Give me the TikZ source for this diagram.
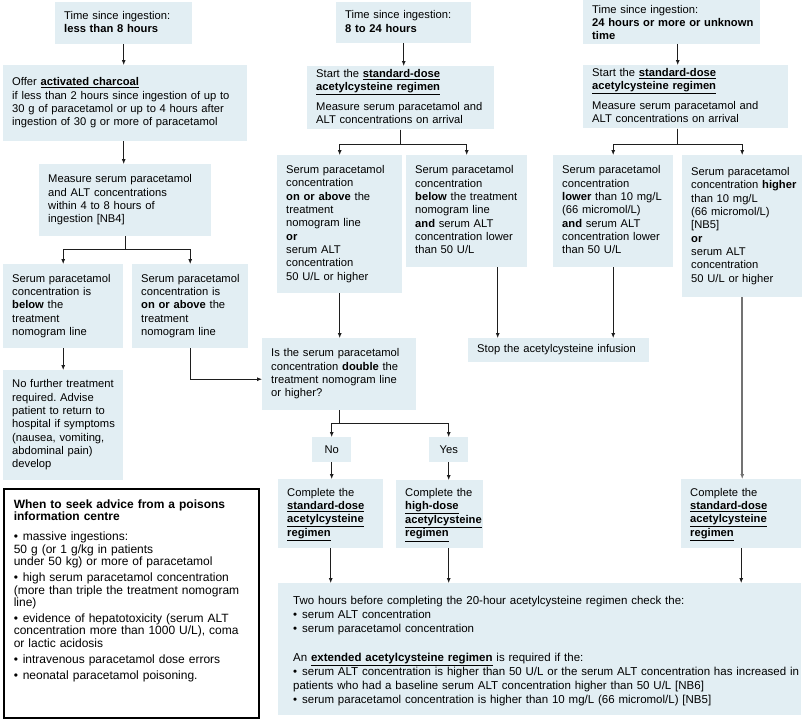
\documentclass[tikz,border=0pt]{standalone}
\usepackage{fontspec}
\setmainfont{Liberation Sans}
\usetikzlibrary{arrows.meta,positioning,calc}
\definecolor{pale}{RGB}{226,238,243}
\definecolor{wire}{RGB}{30,30,30}
\definecolor{slate}{RGB}{115,115,115}
\frenchspacing
\hyphenpenalty=10000
\exhyphenpenalty=10000
\tikzset{
  >={Latex[length=5pt,width=4pt]},
  box/.style={fill=pale,anchor=north west,inner xsep=9pt,inner ysep=2pt,
    text width=#1,align=left,font=\fontsize{11.2}{13.3}\selectfont},
  box/.default=100pt,
  pick/.style={fill=pale,anchor=north west,inner sep=0pt,minimum width=39pt,
    minimum height=25pt,align=center,font=\fontsize{11.2}{13.3}\selectfont},
  note/.style={draw=black,line width=1.6pt,fill=white,anchor=north west,
    inner xsep=10pt,inner ysep=11pt,text width=#1,align=left,
    font=\fontsize{12}{12.4}\selectfont},
  flow/.style={->,draw=wire,line width=0.8pt},
  heavy/.style={draw=slate,line width=1.6pt},
}
\newcommand{\lnk}[1]{\underline{\textbf{#1}}}
\newcommand{\lines}[1]{\begin{tabular}{@{}l@{}}#1\end{tabular}}
\newcommand{\itm}{\par\vspace{3.6pt}\hangindent=9pt\hangafter=1\noindent
  \makebox[9pt][l]{\textbullet}}
\newcommand{\bul}{\makebox[9pt][l]{\textbullet}}

\begin{document}
\begin{tikzpicture}[x=1pt,y=-1pt]
\path[use as bounding box,fill=white] (0,0) rectangle (805,721);

% less than 8 hours
\node[box=119pt,minimum height=42pt] (t1) at (55,2)
  {\lines{Time since ingestion:\\\textbf{less than 8 hours}}};
\node[box=226pt,minimum height=76pt] (coal) at (3,65)
  {\lines{Offer \lnk{activated charcoal}\\if less than 2 hours since ingestion of up to\\
   30~g of paracetamol or up to 4 hours after\\ingestion of 30~g or more of paracetamol}};
\node[box=154pt,minimum height=72pt] (meas1) at (39,164)
  {\lines{Measure serum paracetamol\\and ALT concentrations\\within 4 to 8 hours of\\ingestion [NB4]}};
\node[box=102pt,minimum height=84pt] (below1) at (3,264)
  {\lines{Serum paracetamol\\concentration is\\\textbf{below} the\\treatment\\nomogram line}};
\node[box=98pt,minimum height=84pt] (above1) at (132,264)
  {\lines{Serum paracetamol\\concentration is\\\textbf{on or above} the\\treatment\\nomogram line}};
\node[box=102pt,minimum height=110pt] (nofur) at (3,370)
  {\lines{No further treatment\\required. Advise\\patient to return to\\hospital if symptoms\\
   (nausea, vomiting,\\abdominal pain)\\develop}};

% 8 to 24 hours
\node[box=117pt,minimum height=41pt] (t2) at (336,2)
  {\lines{Time since ingestion:\\\textbf{8 to 24 hours}}};
\node[box=169pt,minimum height=61pt] (start2) at (307,66)
  {\lines{Start the \lnk{standard-dose}\\\lnk{acetylcysteine regimen}\\[6pt]
   Measure serum paracetamol and\\ALT concentrations on arrival}};
\node[box=107pt,minimum height=138pt] (above2) at (277,155)
  {\lines{Serum paracetamol\\concentration\\\textbf{on or above} the\\treatment\\nomogram line\\
   \textbf{or}\\serum ALT\\concentration\\50 U/L or higher}};
\node[box=103pt,minimum height=112pt] (below2) at (406,155)
  {\lines{Serum paracetamol\\concentration\\\textbf{below} the treatment\\nomogram line\\
   \textbf{and} serum ALT\\concentration lower\\than 50 U/L}};

% 24 hours or more
\node[box=159pt,inner ysep=0pt,minimum height=43pt] (t3) at (583,0)
  {\lines{\rule{0pt}{13pt}Time since ingestion:\\\textbf{24 hours or more or unknown}\\\textbf{time}}};
\node[box=187pt,minimum height=61pt] (start3) at (583,65)
  {\lines{Start the \lnk{standard-dose}\\\lnk{acetylcysteine regimen}\\[6pt]
   Measure serum paracetamol and\\ALT concentrations on arrival}};
\node[box=102pt,minimum height=112pt] (lower3) at (553,155)
  {\lines{Serum paracetamol\\concentration\\\textbf{lower} than 10 mg/L\\(66 micromol/L)\\
   \textbf{and} serum ALT\\concentration lower\\than 50 U/L}};
\node[box=102pt,minimum height=142pt] (higher3) at (682,155)
  {\lines{Serum paracetamol\\concentration \textbf{higher}\\than 10 mg/L\\(66 micromol/L)\\{}[NB5]\\
   \textbf{or}\\serum ALT\\concentration\\50 U/L or higher}};

% middle
\node[box=163pt,minimum height=24pt] (stop) at (468,338)
  {\lines{Stop the acetylcysteine infusion}};
\node[box=136pt,minimum height=72pt] (double) at (262,338)
  {\lines{Is the serum paracetamol\\concentration \textbf{double} the\\treatment nomogram line\\or higher?}};
\node[pick] (no) at (312,437) {No};
\node[pick] (yes) at (429,437) {Yes};
\node[box=87pt,minimum height=69pt] (comp1) at (278,479)
  {\lines{Complete the\\\lnk{standard-dose}\\\lnk{acetylcysteine}\\\lnk{regimen}}};
\node[box=69pt,minimum height=68pt] (comp2) at (396,480)
  {\lines{Complete the\\\lnk{high-dose}\\\lnk{acetylcysteine}\\\lnk{regimen}}};
\node[box=102pt,minimum height=69pt] (comp3) at (681,479)
  {\lines{Complete the\\\lnk{standard-dose}\\\lnk{acetylcysteine}\\\lnk{regimen}}};

\node[box=493pt,inner xsep=15pt,minimum height=132pt,
  font=\fontsize{11.5}{14}\selectfont] (bottom) at (278,583)
  {\lines{\rule{0pt}{14pt}Two hours before completing the 20-hour acetylcysteine regimen check the:\\
   \bul serum ALT concentration\\
   \bul serum paracetamol concentration\\[15pt]
   An \lnk{extended acetylcysteine regimen} is required if the:\\
   \bul serum ALT concentration is higher than 50 U/L or the serum ALT concentration has increased in\\
   patients who had a baseline serum ALT concentration higher than 50 U/L [NB6]\\
   \bul serum paracetamol concentration is higher than 10 mg/L (66 micromol/L) [NB5]}};

\node[note=235pt] (advice) at (3,488)
  {\textbf{When to seek advice from a poisons}\\\textbf{information centre}\par\vspace{4pt}
   \itm massive ingestions:\\50~g (or 1~g/kg in patients\\under 50~kg) or more of paracetamol
   \itm high serum paracetamol concentration\\(more than triple the treatment nomogram\\line)
   \itm evidence of hepatotoxicity (serum ALT\\concentration more than 1000 U/L), coma\\or lactic acidosis
   \itm intravenous paracetamol dose errors
   \itm neonatal paracetamol poisoning.\par\noindent\rule{0pt}{24pt}};

% connectors
\draw[flow] (t1.south) -- (t1.south |- coal.north);
\draw[flow] (t1.south |- coal.south) -- (t1.south |- meas1.north);
\draw[flow] (meas1.south) -- ++(0,13) -| (below1.north);
\draw[flow] (meas1.south) -- ++(0,13) -| (above1.north);
\draw[flow] (below1.south) -- (nofur.north);
\draw[flow] (above1.south) |- ([yshift=-5pt]double.west);

\draw[flow] (t2.south) -- (t2.south |- start2.north);
\draw[flow] (start2.south) -- ++(0,15) -| (above2.north);
\draw[flow] (start2.south) -- ++(0,15) -| (below2.north);
\draw[flow] (above2.south) -- (above2.south |- double.north);
\draw[flow] ([xshift=31pt]below2.south) -- ([xshift=31pt]below2.south |- stop.north);

\coordinate (j3) at ([xshift=-8pt]start3.south);
\draw[flow] (t3.south -| j3) -- (j3 |- start3.north);
\draw[flow] (j3) -- ++(0,16) -| (lower3.north);
\draw[flow] (j3) -- ++(0,16) -| (higher3.north);
\draw[flow] (lower3.south) -- (lower3.south |- stop.north);
\draw[flow,heavy] (higher3.south) -- (higher3.south |- comp3.north);

\draw[flow] (double.south) -- ++(0,13) -| (no.north);
\draw[flow] (double.south) -- ++(0,13) -| (yes.north);
\draw[flow] (no.south) -- (no.south |- comp1.north);
\draw[flow] (yes.south) -- (yes.south |- comp2.north);
\draw[flow] (comp1.south) -- (comp1.south |- bottom.north);
\draw[flow] (yes |- comp2.south) -- (yes |- bottom.north);
\draw[flow] (comp3.south) -- (comp3.south |- bottom.north);
\end{tikzpicture}
\end{document}
